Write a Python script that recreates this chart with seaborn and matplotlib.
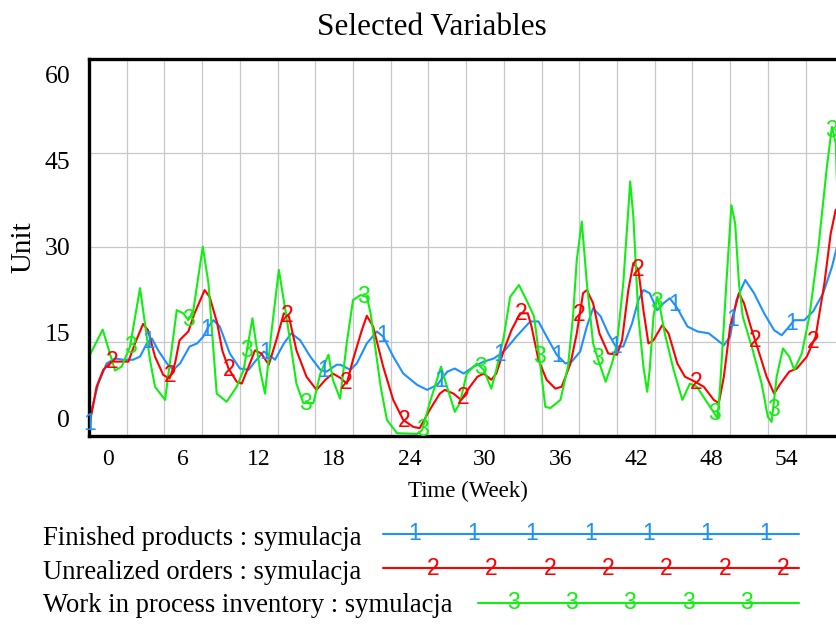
import numpy as np
import pandas as pd
import matplotlib
matplotlib.use("Agg")
import matplotlib.pyplot as plt
import seaborn as sns

# ---------------- data ----------------
series_names = [
    "Finished products : symulacja",
    "Unrealized orders : symulacja",
    "Work in process inventory : symulacja",
]
series_marks = ["1", "2", "3"]
series_colors = ["#1E90FF", "#FF0000", "#11EE11"]

# Finished products
fp_t = [0, 0.2, 0.74, 1.4, 2.07, 2.73, 3.5, 4.06, 4.6, 5.0, 5.5, 6.2, 6.7, 7.24, 8.0, 8.6, 9.1, 9.5,
        9.9, 10.4, 11.2, 12.0, 12.7, 13.2, 13.9, 14.3, 14.8, 15.5, 16.1, 16.8, 17.6, 18.4, 18.9, 19.7,
        20.0, 20.8, 21.3, 22.1, 22.9, 23.4, 24.2, 25.0, 26.1, 26.9, 27.7, 28.5, 29.1, 29.8, 30.6, 31.4,
        32.2, 33.0, 34.0, 35.1, 35.75, 36.4, 37.2, 37.9, 38.4, 39.07, 39.6, 40.1, 40.7, 41.3, 41.9, 42.5,
        43.2, 43.7, 44.1, 44.6, 45.2, 45.7, 46.2, 46.8, 47.6, 48.4, 49.3, 50.0, 50.5, 51.0, 51.5, 52.2,
        52.9, 53.7, 54.5, 55.1, 55.7, 56.1, 56.9, 57.6, 58.4, 59.1, 59.5]
fp_v = [0.4, 4.1, 8.3, 11.5, 12.3, 12.1, 12.1, 12.6, 14.7, 15.5, 13.6, 11.5, 10.5, 11.5, 14.2, 14.7, 15.8, 17.4,
        18.4, 17.4, 13.1, 10.7, 10.5, 11.8, 13.4, 12.9, 12.1, 14.7, 16.3, 15.2, 12.6, 10.5, 10.2, 11.3,
        11.3, 10.5, 11.5, 14.7, 16.6, 15.8, 12.6, 9.9, 8.1, 7.3, 8.1, 10.2, 10.7, 9.9, 11.0, 11.8,
        12.3, 13.4, 15.8, 18.2, 18.2, 15.8, 12.9, 11.5, 11.8, 13.4, 17.4, 20.3, 19.0, 16.3, 14.2, 14.2,
        17.9, 21.6, 23.2, 22.7, 20.0, 21.1, 21.9, 20.3, 17.4, 16.6, 16.3, 15.2, 14.4, 15.8, 21.6, 24.8,
        22.7, 19.5, 16.8, 16.0, 17.4, 18.4, 18.4, 19.8, 22.7, 26.9, 30.1]

# Unrealized orders
uo_t = [0, 0.3, 0.6, 1.14, 1.8, 2.47, 3.13, 3.66, 4.3, 4.7, 5.25, 5.9, 6.4, 6.84, 7.2, 7.9, 8.4, 9.2,
        9.6, 10.2, 10.6, 11.1, 11.75, 12.15, 12.7, 13.2, 13.7, 14.3, 14.9, 15.5, 15.9, 16.5, 17.3, 18.1,
        18.8, 19.4, 20.0, 20.5, 21.0, 21.7, 22.1, 22.6, 23.4, 24.2, 25.0, 25.8, 26.3, 27.1, 27.9, 28.3,
        29.0, 29.6, 30.3, 30.9, 31.4, 32.0, 32.4, 33.0, 33.6, 34.3, 34.9, 35.2, 35.75, 36.4, 37.1, 37.6,
        38.3, 38.8, 39.3, 39.6, 40.1, 40.6, 41.3, 42.0, 42.4, 42.9, 43.3, 43.7, 44.1, 44.5, 44.9, 45.6,
        46.1, 46.8, 47.4, 48.2, 48.9, 49.7, 50.1, 50.5, 51.0, 51.7, 52.1, 52.6, 53.4, 53.9, 54.5, 55.0,
        55.7, 56.3, 57.1, 57.8, 58.5, 59.0, 59.4, 59.5]
uo_v = [1.5, 4.5, 7.8, 10.5, 11.8, 11.8, 11.8, 14.7, 17.8, 16.8, 12.6, 9.7, 9.1, 11.5, 15.2, 16.6, 19.5, 23.2,
        22.1, 17.9, 13.6, 10.7, 8.6, 8.3, 11.0, 13.6, 13.1, 11.3, 15.2, 19.5, 19.0, 13.6, 9.4, 7.3,
        8.9, 9.9, 9.2, 8.3, 12.1, 16.8, 19.1, 17.4, 11.0, 5.7, 2.5, 1.4, 1.2, 4.1, 6.7, 7.3,
        6.7, 5.7, 7.8, 9.4, 9.9, 8.9, 9.9, 13.6, 16.8, 19.5, 19.5, 17.4, 12.1, 8.9, 7.5, 7.8,
        11.5, 16.3, 22.7, 23.2, 21.1, 16.3, 13.1, 12.9, 15.2, 23.2, 27.5, 26.4, 20.0, 14.7, 15.2, 17.6,
        16.3, 11.5, 9.4, 8.6, 7.8, 5.7, 5.2, 9.4, 17.4, 22.7, 21.1, 17.6, 12.6, 9.4, 6.7, 8.3,
        10.2, 10.7, 12.6, 15.8, 24.3, 32.2, 36.0, 36.0]

# Work in process inventory
wip_t = [0, 1.09, 2.07, 2.6, 3.26, 4.06, 4.85, 5.25, 6.05, 6.98, 7.5, 7.9, 8.3, 9.05, 9.5, 9.9, 10.16, 10.95,
         11.75, 12.3, 13.0, 13.6, 14.0, 14.5, 15.1, 15.7, 16.5, 17.05, 17.85, 18.4, 19.05, 19.4, 19.97, 20.5,
         21.0, 21.6, 22.1, 22.4, 22.8, 23.2, 23.7, 24.5, 26.1, 26.5, 27.1, 28.0, 28.4, 29.1, 29.5, 30.05,
         30.85, 31.4, 32.0, 32.4, 33.0, 33.5, 34.2, 34.8, 35.4, 35.75, 36.3, 36.7, 37.5, 38.1, 38.5, 38.8,
         39.2, 39.6, 40.1, 40.5, 41.1, 41.6, 42.0, 42.5, 43.05, 43.3, 43.7, 44.1, 44.4, 44.6, 44.9, 45.2,
         45.4, 45.8, 46.5, 47.2, 47.8, 48.35, 49.2, 50.0, 50.2, 50.7, 51.1, 51.4, 51.7, 52.0, 52.8, 53.5,
         54.0, 54.3, 54.7, 55.2, 55.7, 56.1, 56.7, 57.3, 58.0, 58.7, 59.1, 59.4, 59.5]
wip_v = [12.6, 16.9, 10.4, 11.0, 14.2, 23.5, 12.1, 7.8, 5.7, 20.0, 19.5, 18.4, 20.0, 30.1, 24.3, 13.6, 6.7, 5.4,
         7.8, 10.5, 18.7, 10.5, 6.7, 16.3, 26.4, 19.0, 8.3, 5.2, 5.2, 9.9, 12.9, 8.9, 5.9, 14.7,
         21.6, 22.4, 22.1, 19.5, 13.6, 7.8, 2.5, 0.4, 0.3, 0.9, 5.2, 11.0, 8.3, 3.8, 5.2, 9.9,
         11.5, 10.5, 7.5, 10.5, 15.8, 22.1, 24.0, 21.6, 19.0, 13.6, 4.6, 4.4, 5.7, 11.0, 19.0, 28.0,
         34.1, 24.3, 14.7, 12.1, 8.6, 11.5, 14.7, 24.3, 40.5, 34.9, 19.0, 11.0, 7.0, 10.5, 19.0, 22.1,
         20.6, 16.3, 10.5, 5.7, 8.3, 7.8, 5.2, 2.8, 7.8, 24.3, 36.7, 33.8, 24.3, 19.0, 13.6, 8.3,
         3.0, 2.2, 9.4, 13.9, 12.6, 10.5, 13.1, 19.0, 29.6, 42.9, 49.2, 46.6, 40.0]

x_tick_values = [0, 6, 12, 18, 24, 30, 36, 42, 48, 54]
y_tick_values = [60, 45, 30, 15, 0]

# ---------------- figure ----------------
W, H = 837, 625
sns.set_theme(style="white")
plt.rcParams["font.family"] = ["Liberation Serif", "DejaVu Serif"]
plt.rcParams["text.color"] = "black"
plt.rcParams["xtick.color"] = "black"
plt.rcParams["ytick.color"] = "black"

fig = plt.figure(figsize=(W / 100, H / 100), dpi=100)
fig.patch.set_facecolor("white")

ax_l, ax_r, ax_top, ax_bot = 89, 837, 59, 435.7
ax = fig.add_axes([ax_l / W, 1 - ax_bot / H, (ax_r - ax_l) / W, (ax_bot - ax_top) / H])

frames = []
for name, t, v in zip(series_names, [fp_t, uo_t, wip_t], [fp_v, uo_v, wip_v]):
    frames.append(pd.DataFrame({"Time": t, "Value": v, "Series": name}))
df = pd.concat(frames, ignore_index=True)

palette = dict(zip(series_names, series_colors))
sns.lineplot(data=df, x="Time", y="Value", hue="Series", hue_order=series_names,
             palette=palette, estimator=None, sort=False, legend=False,
             linewidth=1.5, ax=ax)

ax.set_xlim(0, 59.5)
ax.set_ylim(0, 60)

# grid (Vensim style: every 3 weeks, every 15 units)
ax.set_xticks(np.arange(3, 59, 3))
ax.set_xticklabels([])
ax.set_yticks([15, 30, 45])
ax.set_yticklabels([])
ax.grid(True, which="major", color="#c8c8c8", linewidth=0.9)
ax.tick_params(axis="x", which="major", length=2, width=0.9, color="#c8c8c8", direction="out")
ax.tick_params(axis="y", which="major", length=0)

# tick labels, placed the way Vensim offsets them
label_shift = 1.5
ax.set_xticks([v + label_shift for v in x_tick_values], minor=True)
ax.set_xticklabels([str(v) for v in x_tick_values], minor=True)
y_label_pos = np.linspace(57.5, 2.7, len(y_tick_values))
ax.set_yticks(y_label_pos, minor=True)
ax.set_yticklabels([str(v) for v in y_tick_values], minor=True)
ax.tick_params(axis="x", which="minor", length=0, pad=9.5, labelsize=17, colors="black")
ax.tick_params(axis="y", which="minor", length=0, pad=13.5, labelsize=18.5, colors="black")
ax.set_xlabel("")
ax.set_ylabel("")

for side in ["left", "top", "bottom"]:
    ax.spines[side].set_visible(True)
    ax.spines[side].set_color("black")
    ax.spines[side].set_linewidth(2.4)
ax.spines["right"].set_visible(False)

# number markers along each line
mark_start = [0.08, 1.83, 3.26]
mark_step = 4.65
for name, t, v, mk, col, st in zip(series_names, [fp_t, uo_t, wip_t], [fp_v, uo_v, wip_v],
                                   series_marks, series_colors, mark_start):
    mts = np.arange(st, 59.5, mark_step)
    mvs = np.interp(mts, t, v)
    for mt, mv in zip(mts, mvs):
        ax.text(mt, mv, mk, color=col, fontsize=16.5, family="Liberation Sans",
                ha="center", va="center", zorder=5)

# titles
fig.text(431.7 / W, 1 - 35 / H, "Selected Variables", ha="center", va="baseline", fontsize=22.5)
fig.text(23 / W, 1 - 247 / H, "Unit", rotation=90, ha="center", va="center", fontsize=21)
fig.text(467.5 / W, 1 - 491 / H, "Time (Week)", ha="center", va="center", fontsize=16.5)

# legend (Vensim style, drawn in pixel coordinates)
lax = fig.add_axes([0, 0, 1, 1], facecolor="none")
lax.set_xlim(0, W)
lax.set_ylim(H, 0)
lax.axis("off")
leg_baseline = [545, 579, 612]
leg_line_y = [534, 568.3, 602.7]
leg_line_x0 = [383, 383, 478]
leg_line_x1 = 799
leg_mark_x0 = [415, 433, 513]
leg_mark_n = [7, 7, 5]
for i, name in enumerate(series_names):
    lax.text(43.3, leg_baseline[i], name, ha="left", va="baseline", fontsize=19.2, color="black")
    lax.plot([leg_line_x0[i], leg_line_x1], [leg_line_y[i]] * 2, color=series_colors[i], lw=1.5)
    for k in range(leg_mark_n[i]):
        lax.text(leg_mark_x0[i] + k * 58.4, leg_line_y[i], series_marks[i], color=series_colors[i],
                 fontsize=16.5, family="Liberation Sans", ha="center", va="center")

fig.savefig("out.png", dpi=100)
